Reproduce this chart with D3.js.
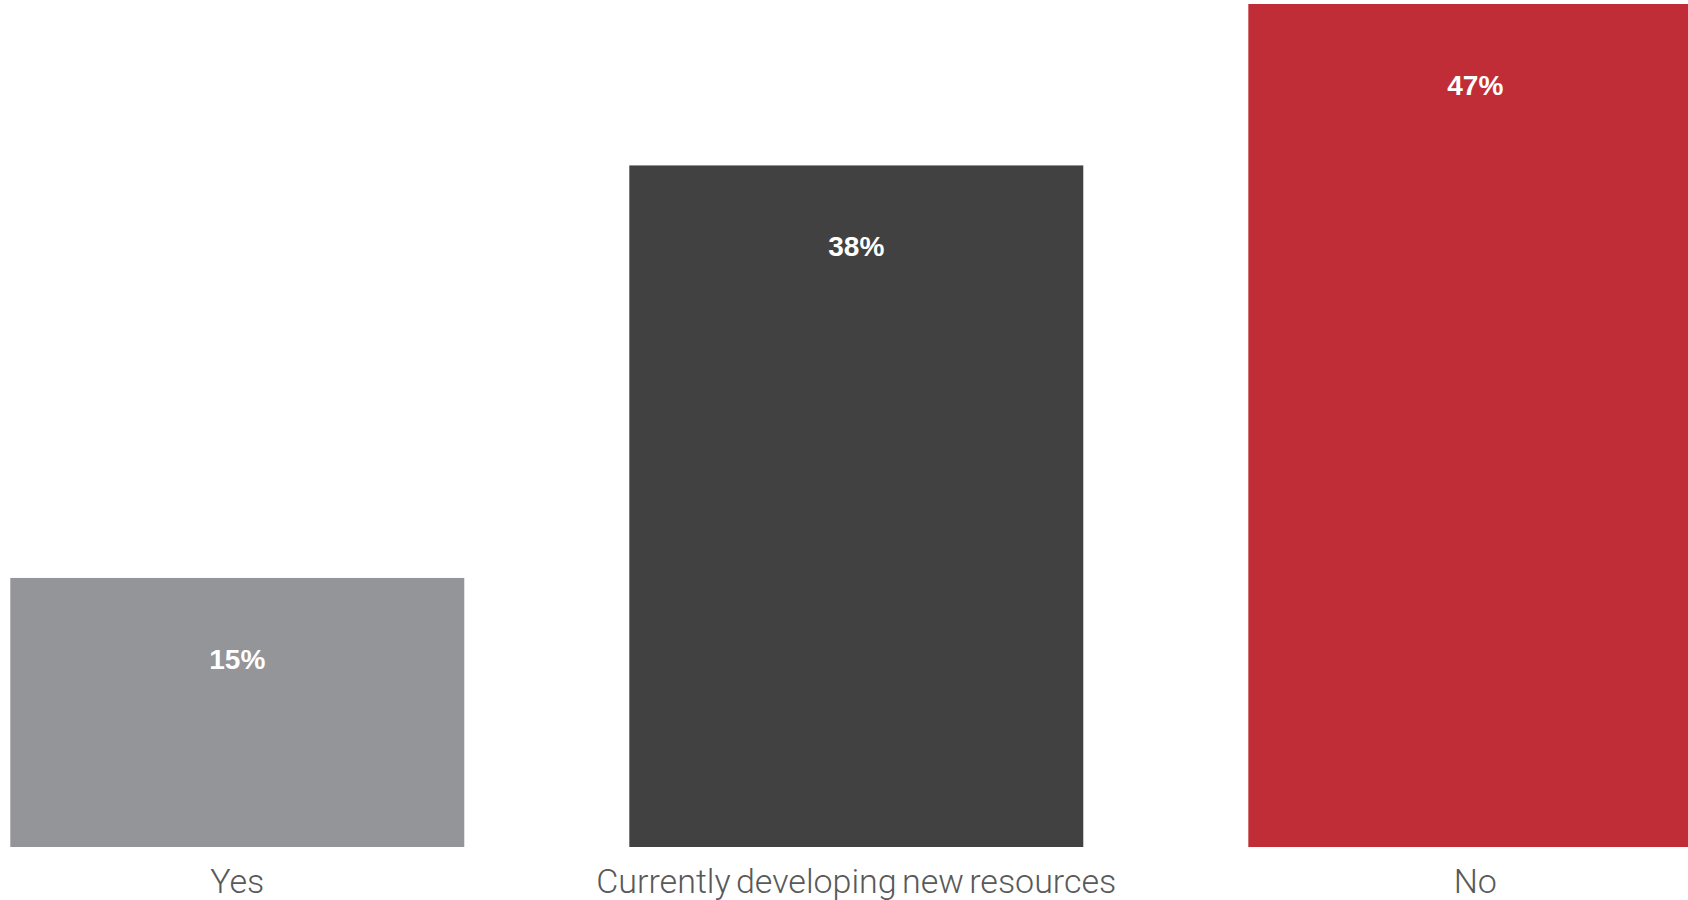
<!DOCTYPE html>
<html>
<head>
<meta charset="utf-8">
<script src="https://cdn.jsdelivr.net/npm/d3@7"></script>
<style>
  html, body { margin: 0; padding: 0; background: #ffffff; overflow: hidden; }
  svg { display: block; }
</style>
</head>
<body>
<div id="chart"></div>
<script>
// Survey responses: share of respondents per answer
const categories = ["Yes", "Currently developing new resources", "No"];
const values = [15, 38, 47];
const barColors = ["#949599", "#414141", "#c12d37"];

const width = 1688, height = 900;

const svg = d3.select("#chart").append("svg")
  .attr("width", width)
  .attr("height", height);

// Band scale: three equal columns, the last one runs past the right edge
const x = d3.scaleBand()
  .domain(categories)
  .range([10.3, 1702.3])
  .paddingInner(0.2666)
  .paddingOuter(0);

const y = d3.scaleLinear()
  .domain([0, 47])
  .range([847, 4]);

const data = categories.map((c, i) => ({ category: c, value: values[i], color: barColors[i] }));

// Bars
svg.append("g").selectAll("rect")
  .data(data)
  .join("rect")
  .attr("x", d => x(d.category))
  .attr("y", d => y(d.value))
  .attr("width", x.bandwidth())
  .attr("height", d => y(0) - y(d.value))
  .attr("fill", d => d.color);

// Value labels inside the top of each bar
svg.append("g").selectAll("text")
  .data(data)
  .join("text")
  .attr("x", d => x(d.category) + x.bandwidth() / 2)
  .attr("y", d => y(d.value) + 91)
  .attr("text-anchor", "middle")
  .attr("fill", "#ffffff")
  .style("font-family", "'Liberation Sans', Arial, sans-serif")
  .style("font-weight", "bold")
  .style("font-size", "28px")
  .text(d => d.value + "%");

// Category axis labels below the bars
const xAxis = d3.axisBottom(x).tickSize(0).tickPadding(0);
const axisG = svg.append("g")
  .attr("transform", `translate(0, ${y(0)})`)
  .call(xAxis);
axisG.select(".domain").remove();
axisG.selectAll(".tick text")
  .attr("y", 46)
  .attr("dy", 0)
  .attr("fill", "#595959")
  .style("font-family", "Roboto, 'Liberation Sans', sans-serif")
  .style("font-weight", "300")
  .style("font-size", "34px")
  .style("word-spacing", "-3px");
</script>
</body>
</html>
